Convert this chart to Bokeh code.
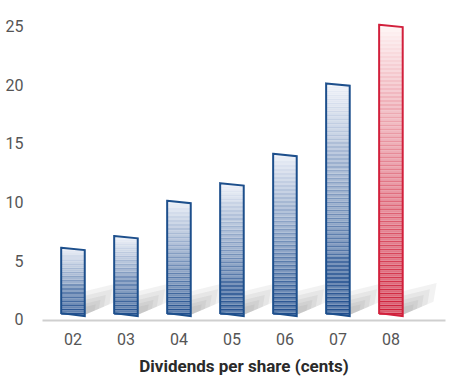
from bokeh.plotting import figure
from bokeh.models import Range1d, FixedTicker, ColumnDataSource
from bokeh.embed import file_html
from bokeh.resources import INLINE

# Dividends per share (cents), by financial year
years = ["02", "03", "04", "05", "06", "07", "08"]
dividends = [6, 7, 10, 11.5, 14, 20, 25]
highlight = [False, False, False, False, False, False, True]
y_ticks = [0, 5, 10, 15, 20, 25]

BAR_W = 0.445
BASE = 0.4          # bars stand slightly above the floor line
SLANT = 0.1         # perspective tilt of top edge
STRIPE = 0.34       # height of one stripe pair

BLUE_TOP, BLUE_BOT, BLUE_EDGE = (238, 241, 249), (30, 76, 140), "#1d4f8c"
RED_TOP, RED_BOT, RED_EDGE = (255, 246, 246), (206, 30, 56), "#d2203c"


def mix(a, b, t):
    return tuple(int(round(a[k] + (b[k] - a[k]) * t)) for k in range(3))


def hexc(c):
    return "#%02x%02x%02x" % c


p = figure(width=449, height=378, output_backend="svg", toolbar_location=None,
           x_range=Range1d(-0.575, 7.03), y_range=Range1d(-0.1, 26.74),
           min_border_left=42, min_border_right=4, min_border_top=5, min_border_bottom=40)
p.outline_line_color = None
p.grid.visible = False
p.background_fill_color = "white"
p.border_fill_color = "white"

# floor shadows behind each bar
sx, sy = [], []
for i, v in enumerate(dividends):
    xr = i + BAR_W / 2
    base_poly = [(0, 0), (0, 2.0), (0.64, 2.7), (0.58, 1.1)]
    for s in (1.0, 0.8, 0.62, 0.46, 0.32):
        sx.append([xr + dx * s for dx, dy in base_poly])
        sy.append([BASE + dy * s for dx, dy in base_poly])
p.patches(sx, sy, fill_color="#6f6f6f", fill_alpha=0.09, line_color=None)

# striped gradient bodies
ql, qr, qb, qt, qc = [], [], [], [], []
for i, v in enumerate(dividends):
    top_c, bot_c = (RED_TOP, RED_BOT) if highlight[i] else (BLUE_TOP, BLUE_BOT)
    h = v - BASE
    n = max(1, int(round(h / STRIPE)))
    step = h / n
    for j in range(n):
        y0 = BASE + j * step
        t = 1 - (j + 0.5) / n           # 1 at bottom, 0 at top
        dark = mix(top_c, bot_c, t ** 0.85)
        light = mix(dark, (255, 255, 255), 0.28)
        for (a, b, c) in ((y0, y0 + step / 2, dark), (y0 + step / 2, y0 + step, light)):
            ql.append(i - BAR_W / 2); qr.append(i + BAR_W / 2)
            qb.append(a); qt.append(b); qc.append(hexc(c))
p.quad(left="l", right="r", bottom="b", top="t", fill_color="c", line_color=None,
       source=ColumnDataSource(dict(l=ql, r=qr, b=qb, t=qt, c=qc)))

# outlines with tilted top and bottom edges
ox, oy, oc = [], [], []
for i, v in enumerate(dividends):
    l, r = i - BAR_W / 2, i + BAR_W / 2
    ox.append([l, r, r, l])
    oy.append([v + SLANT, v - SLANT, BASE - 0.12, BASE + 0.12])
    oc.append(RED_EDGE if highlight[i] else BLUE_EDGE)
p.patches(ox, oy, fill_color=None, line_color=oc, line_width=2, line_join="miter")

# y axis: labels only
p.yaxis.ticker = FixedTicker(ticks=y_ticks)
p.yaxis.axis_line_color = None
p.yaxis.major_tick_line_color = None
p.yaxis.minor_tick_line_color = None
p.yaxis.major_label_standoff = 13
p.yaxis.major_label_text_font = "Roboto"
p.yaxis.major_label_text_font_size = "16px"
p.yaxis.major_label_text_color = "#555555"

# x axis: floor line, year labels and title
p.xaxis.ticker = FixedTicker(ticks=list(range(len(years))))
p.xaxis.major_label_overrides = {i: y for i, y in enumerate(years)}
p.xaxis.axis_line_color = "#cfcfcf"
p.xaxis.axis_line_width = 2
p.xaxis.major_tick_line_color = None
p.xaxis.minor_tick_line_color = None
p.xaxis.major_label_standoff = 6
p.xaxis.major_label_text_font = "Roboto"
p.xaxis.major_label_text_font_size = "16px"
p.xaxis.major_label_text_color = "#555555"
p.xaxis.axis_label = "Dividends per share (cents)"
p.xaxis.axis_label_text_font = "Roboto"
p.xaxis.axis_label_text_font_style = "bold"
p.xaxis.axis_label_text_font_size = "17px"
p.xaxis.axis_label_text_color = "#2a2a2a"
p.xaxis.axis_label_standoff = 8

open("out.html", "w").write(file_html(p, INLINE))
